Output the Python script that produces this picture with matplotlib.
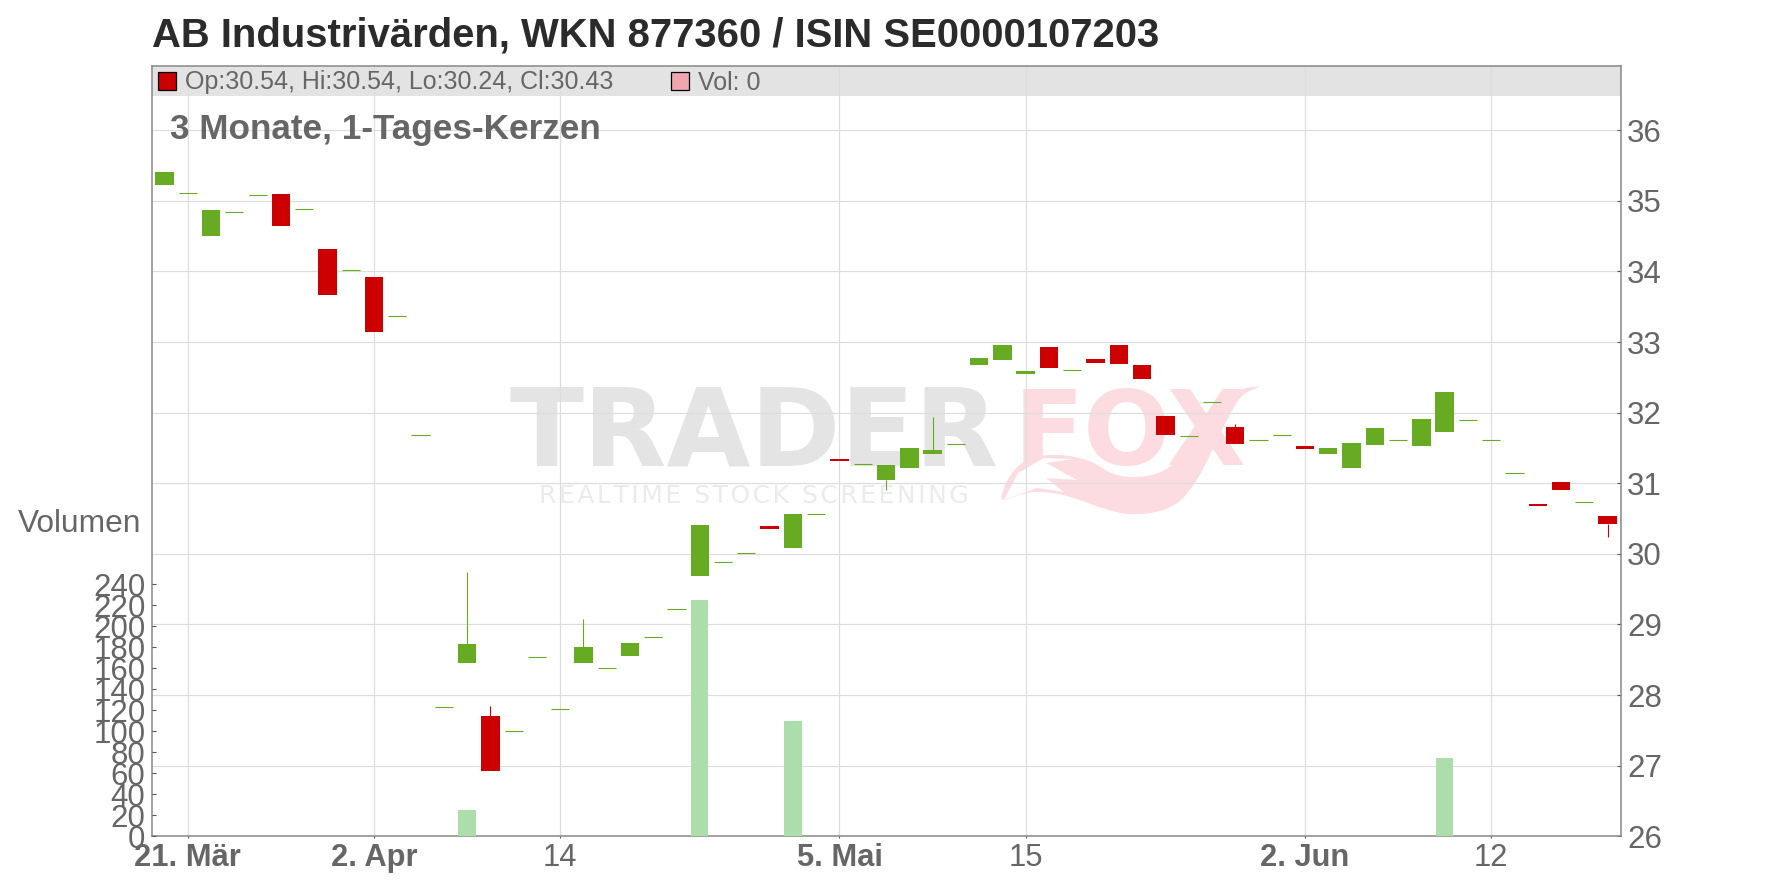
import matplotlib
matplotlib.use("Agg")
import numpy as np
import matplotlib.pyplot as plt
from matplotlib.patches import Polygon, Rectangle
from matplotlib.transforms import IdentityTransform

plt.rcParams["font.family"] = ["Liberation Sans", "DejaVu Sans"]

W, H = 1776, 888
GREEN = "#66AB21"
RED = "#CC0000"
GREY = "#666666"

# daily candles, one value per trading day (doji days have open == close)
opens = [35.23, 35.11, 34.50, 34.84, 35.09, 35.10, 34.88, 34.32, 34.02, 33.92,
         33.37, 31.69, 27.83, 28.46, 27.70, 27.49, 28.54, 27.80, 28.46, 28.39,
         28.55, 28.82, 29.22, 29.69, 29.88, 30.01, 30.40, 30.08, 30.57, 31.35,
         31.28, 31.05, 31.22, 31.41, 31.55, 32.68, 32.75, 32.55, 32.93, 32.60,
         32.76, 32.96, 32.68, 31.95, 31.67, 32.15, 31.80, 31.62, 31.68, 31.53,
         31.42, 31.22, 31.54, 31.62, 31.53, 31.73, 31.89, 31.62, 31.14, 30.71,
         31.02, 30.73, 30.54]
closes = [35.41, 35.11, 34.87, 34.84, 35.09, 34.65, 34.88, 33.67, 34.02, 33.14,
          33.37, 31.69, 27.83, 28.72, 26.93, 27.49, 28.54, 27.80, 28.68, 28.39,
          28.74, 28.82, 29.22, 30.41, 29.88, 30.01, 30.35, 30.56, 30.57, 31.32,
          31.28, 31.26, 31.50, 31.47, 31.55, 32.77, 32.96, 32.59, 32.63, 32.60,
          32.70, 32.69, 32.48, 31.68, 31.67, 32.15, 31.56, 31.62, 31.68, 31.49,
          31.50, 31.57, 31.78, 31.62, 31.91, 32.29, 31.89, 31.62, 31.14, 30.68,
          30.91, 30.73, 30.43]

# the few days with a visible wick
wick_days = [13, 14, 18, 31, 33, 46, 62]
wick_tips = [29.74, 27.85, 29.08, 30.90, 31.94, 31.84, 30.24]

volume_days = [13, 23, 27, 55]
volumes = [25, 225, 110, 75]

price_ticks = list(range(26, 37))
volume_ticks = list(range(0, 241, 20))
date_days = [1, 9, 17, 29, 37, 49, 57]
date_labels = ["21. Mär", "2. Apr", "14", "5. Mai", "15", "2. Jun", "12"]
date_bold = [True, True, False, True, False, True, False]

# watermark fox tail, outline in image pixels
tail_outer = [(998, 503), (1010, 473), (1029, 457), (1060, 454), (1090, 460),
              (1113, 475), (1136, 478), (1163, 473), (1186, 453), (1205, 427),
              (1228, 397), (1243, 388), (1263, 386), (1243, 393), (1232, 410),
              (1217, 440), (1198, 480), (1175, 508), (1136, 516), (1106, 510),
              (1067, 495), (1037, 491), (1018, 495)]
tail_inner = [(1073, 459), (1046, 463), (1077, 480), (1046, 478), (1064, 492),
              (1037, 488), (1004, 500), (1018, 473), (1044, 458)]


def to_display(points):
    return [(x, H - y) for x, y in points]


def round_off(points, passes=2):
    # corner cutting, only to soften the logo outline
    pts = np.array(points, dtype=float)
    for _ in range(passes):
        nxt = np.roll(pts, -1, axis=0)
        pts = np.column_stack([0.75 * pts + 0.25 * nxt, 0.25 * pts + 0.75 * nxt]).reshape(-1, 2)
    return pts.tolist()


fig = plt.figure(figsize=(W / 100, H / 100), dpi=100)
left, right, top, bottom = 152.4, 1620.6, 65.7, 836.3
ax = fig.add_axes([left / W, 1 - bottom / H, (right - left) / W, (bottom - top) / H])
ax_vol = ax.twinx()

# ── price panel ──────────────────────────────────────────────────────────────
ax.set_xlim(-0.52, 62.56)
ax.set_ylim(26, 26 + (bottom - top) / 70.6)
ax.set_axisbelow(True)
ax.grid(True, color="#DDDDDD", linewidth=0.85)

ax.add_patch(Rectangle((0, 1 - (96 - top) / (bottom - top)), 1, (96 - top) / (bottom - top),
                       transform=ax.transAxes, facecolor="#E3E3E3", edgecolor="none", zorder=0.1))

days = np.arange(len(opens))
o = np.array(opens)
c = np.array(closes)
doji = o == c
up = c > o
down = c < o
ax.bar(days[up], (c - o)[up], bottom=o[up], width=0.79, color=GREEN, linewidth=0, zorder=3)
ax.bar(days[down], (o - c)[down], bottom=c[down], width=0.79, color=RED, linewidth=0, zorder=3)
ax.hlines(o[doji], days[doji] - 0.39, days[doji] + 0.39, color=GREEN, linewidth=0.8, zorder=3)
for day, tip in zip(wick_days, wick_tips):
    body_end = max(o[day], c[day]) if tip > o[day] else min(o[day], c[day])
    ax.vlines(day, body_end, tip, color=GREEN if up[day] else RED, linewidth=0.8, zorder=3)

ax.set_xticks(date_days)
ax.set_xticklabels(date_labels)
for lbl, bold in zip(ax.get_xticklabels(), date_bold):
    lbl.set_fontweight("bold" if bold else "normal")
ax.set_yticks(price_ticks)
ax.tick_params(axis="y", right=True, left=False, labelright=True, labelleft=False,
               direction="in", length=3.2, width=0.8, color="#555555",
               labelsize=22.5, labelcolor=GREY, pad=4.6)
ax.tick_params(axis="x", direction="out", length=1.5, width=0.8, color="#555555",
               labelsize=22.2, labelcolor=GREY, pad=3)
for spine in ax.spines.values():
    spine.set_color("#888888")
    spine.set_linewidth(1.1)

# ── volume panel ─────────────────────────────────────────────────────────────
ax_vol.set_ylim(0, (bottom - top) / 1.05)
ax_vol.bar(volume_days, volumes, width=0.74, color="#ABDEAA", linewidth=0, zorder=2)
ax_vol.set_yticks(volume_ticks)
ax_vol.yaxis.tick_left()
ax_vol.tick_params(axis="y", direction="in", length=3.2, width=0.8, color="#555555",
                   labelsize=22.5, labelcolor=GREY, pad=5)
for spine in ax_vol.spines.values():
    spine.set_visible(False)

# ── watermark ────────────────────────────────────────────────────────────────
ident = IdentityTransform()
ax.text(509, H - 465, "TRADER", transform=ident, family="DejaVu Sans", fontweight="bold",
        fontsize=78, color="#E4E4E4", zorder=0.2, va="baseline")
ax.text(1014, H - 465, "FOX", transform=ident, family="DejaVu Sans", fontweight="bold",
        fontsize=74, color="#FDDCE1", zorder=0.2, va="baseline")
ax.text(539, H - 503, "\u200a".join("REALTIME STOCK SCREENING"), transform=ident,
        family="DejaVu Sans", fontsize=18, color="#EBEBEB", zorder=0.2, va="baseline")
ax.add_patch(Polygon(to_display(round_off(tail_outer)), transform=ident, facecolor="#FDDCE1",
                     edgecolor="none", zorder=0.25, clip_on=False))
ax.add_patch(Polygon(to_display(tail_inner), transform=ident, facecolor="white",
                     edgecolor="none", zorder=0.26, clip_on=False))

# ── header texts ─────────────────────────────────────────────────────────────
fig.text(152 / W, 1 - 46.7 / H, "AB Industrivärden, WKN 877360 / ISIN SE0000107203",
         fontsize=28.8, fontweight="bold", color="#2B2B2B", va="baseline")
fig.text(170 / W, 1 - 139.3 / H, "3 Monate, 1-Tages-Kerzen",
         fontsize=25.3, fontweight="bold", color=GREY, va="baseline")
fig.text(18 / W, 1 - 531.7 / H, "Volumen", fontsize=22.8, color=GREY, va="baseline")
fig.text(185 / W, 1 - 89.5 / H, "Op:30.54, Hi:30.54, Lo:30.24, Cl:30.43",
         fontsize=18, color=GREY, va="baseline")
fig.text(697.5 / W, 1 - 89.5 / H, "Vol: 0", fontsize=18, color=GREY, va="baseline")
for x0, colour in [(157.5, RED), (670.5, "#EFA6AE")]:
    fig.add_artist(Rectangle((x0 / W, 1 - 90.5 / H), 18 / W, 18 / H, transform=fig.transFigure,
                             facecolor=colour, edgecolor="black", linewidth=0.9))

fig.savefig("out.png", dpi=100)
